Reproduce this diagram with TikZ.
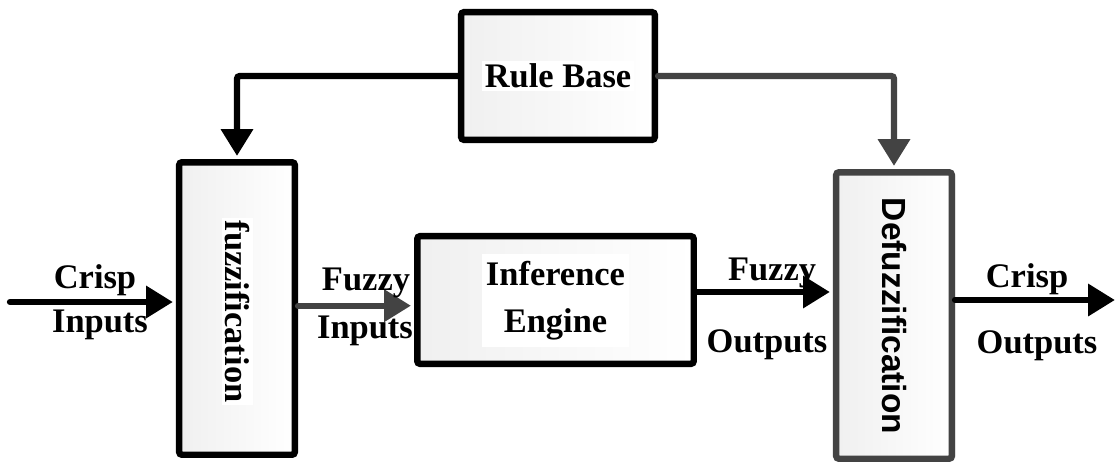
\documentclass[tikz,border=0pt]{standalone}
\usepackage{fontspec}
\setmainfont{Liberation Serif}
\newfontfamily\sansbf{Liberation Sans}
\usetikzlibrary{arrows.meta}
\usetikzlibrary{shadows}
\definecolor{darkline}{HTML}{434343}
\tikzset{blk/.style = {draw, line width=4.6pt, rounded corners=2pt, inner sep=0,
                       left color=gray!12, right color=white}}
\tikzset{flow/.style = {line width=4.5pt, line cap=round, rounded corners=2pt, shorten >=2.2pt,
                        -{Triangle[length=19pt, width=22pt]}}}
\tikzset{lbl/.style = {font=\bfseries\fontsize{24.5}{33.4}\selectfont, inner sep=0}}
\tikzset{boxtxt/.style = {lbl, fill=white, inner sep=2pt, align=center}}

\begin{document}
\begin{tikzpicture}[x=0.025cm, y=-0.025cm]
  \useasboundingbox [fill=white] (0, 0) rectangle (1115, 463);

  \node [blk, minimum width=4.84cm, minimum height=3.19cm] (rb) at (558, 76) {};
  \node [blk, minimum width=2.89cm, minimum height=7.31cm] (fz) at (237, 308.5) {};
  \node [blk, minimum width=6.91cm, minimum height=3.19cm] (ie) at (555.5, 300) {};
  \node [blk, draw=darkline, minimum width=2.89cm, minimum height=7.16cm,
         drop shadow={shadow xshift=2.5pt, shadow yshift=-1pt, fill=gray!40, opacity=0.5}] (df) at (894, 315.5) {};

  \node [boxtxt] (rbtxt) at (rb) {Rule Base};
  \node [boxtxt, rotate=-90] (fztxt) at (237.5, 311.5) {fuzzification};
  \node [boxtxt, inner xsep=3pt, inner ysep=5pt] (ietxt) at (555.5, 300.5) {Inference\\Engine};
  \node [lbl, rotate=-90, font=\sansbf\bfseries\fontsize{23.8}{28}\selectfont] (dftxt) at (894, 316) {Defuzzification};

  \coordinate (cin) at (10, 302);
  \coordinate (cout) at (1118, 300);

  \draw [flow] (cin) -- (cin -| fz.west);
  \draw [flow, darkline] ([yshift=2pt]fz.east) -- ([yshift=2pt]fz.east -| ie.west);
  \draw [flow] ([yshift=5.7pt]ie.east) -- ([yshift=5.7pt]ie.east -| df.west);
  \draw [flow] (cout -| df.east) -- (cout);
  \draw [flow] (rb.west) -| (fz.north);
  \draw [flow, darkline] (rb.east) -| (df.north);

  \node [lbl, anchor=base] (ci1) at (95, 288) {Crisp};
  \node [lbl, anchor=base] (ci2) at (100, 332) {Inputs};
  \node [lbl, anchor=base] (fi1) at (366, 290) {Fuzzy};
  \node [lbl, anchor=base] (fi2) at (365, 338) {Inputs};
  \node [lbl, anchor=base] (fo1) at (772, 280) {Fuzzy};
  \node [lbl, anchor=base] (fo2) at (767, 352) {Outputs};
  \node [lbl, anchor=base] (co1) at (1027, 287) {Crisp};
  \node [lbl, anchor=base] (co2) at (1037, 353) {Outputs};
\end{tikzpicture}
\end{document}
